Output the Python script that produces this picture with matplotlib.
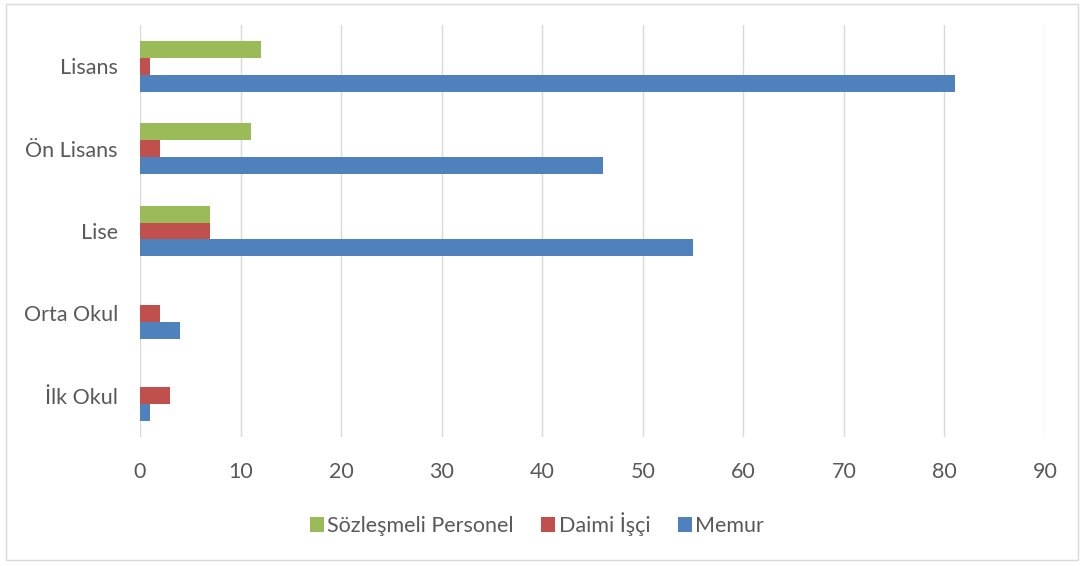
import numpy as np
import matplotlib.pyplot as plt
from matplotlib.patches import Rectangle

# Eğitim durumuna göre personel dağılımı
kategoriler = ['İlk Okul', 'Orta Okul', 'Lise', 'Ön Lisans', 'Lisans']
memur = [1, 4, 55, 46, 81]
daimi_isci = [3, 2, 7, 2, 1]
sozlesmeli = [0, 0, 7, 11, 12]

plt.rcParams['font.family'] = ['Lato', 'DejaVu Sans']

fig = plt.figure(figsize=(10.83, 5.66), dpi=100)
ax = fig.add_axes([140 / 1083, 1 - 437 / 566, 905 / 1083, 412 / 566])

y = np.arange(len(kategoriler))
h = 0.205
ax.barh(y - h, memur, height=h, color='#4F81BD', label='Memur', zorder=3)
ax.barh(y, daimi_isci, height=h, color='#C0504D', label='Daimi İşçi', zorder=3)
ax.barh(y + h, sozlesmeli, height=h, color='#9BBB59', label='Sözleşmeli Personel', zorder=3)

ax.set_xlim(0, 90)
ax.set_ylim(-0.5, len(kategoriler) - 0.5)
ax.set_xticks(np.arange(0, 91, 10))
ax.set_yticks(y)
ax.set_yticklabels(kategoriler)
ax.grid(axis='x', color='#D9D9D9', linewidth=1, zorder=0)
for s in ax.spines.values():
    s.set_visible(False)
ax.tick_params(axis='both', length=0, labelsize=15.5, labelcolor='#595959')
ax.tick_params(axis='x', pad=18)
ax.tick_params(axis='y', pad=16)

# Lejant: sıra ters
handles, labels = ax.get_legend_handles_labels()
leg = fig.legend(handles[::-1], labels[::-1], loc='center', bbox_to_anchor=(537 / 1083, 1 - 524 / 566),
                 ncol=3, frameon=False, fontsize=15.5, handlelength=0.65, handleheight=0.65,
                 handletextpad=0.15, columnspacing=1.3)
for t in leg.get_texts():
    t.set_color('#595959')

# Grafik çerçevesi
fig.patches.append(Rectangle((6 / 1083, 1 - 560 / 566), 1072 / 1083, 556 / 566,
                             transform=fig.transFigure, fill=False, edgecolor='#D9D9D9', linewidth=1))

fig.savefig('out.png', dpi=100)
